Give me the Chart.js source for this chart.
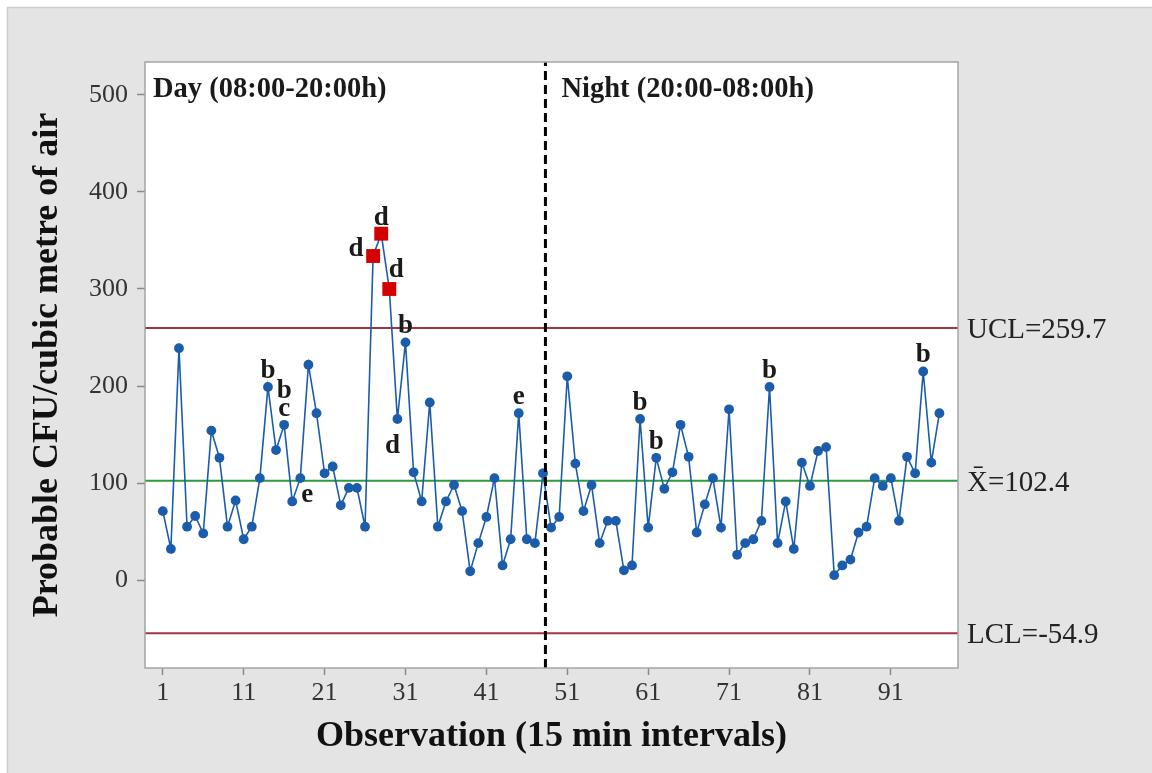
<!DOCTYPE html>
<html>
<head>
<meta charset="utf-8">
<script src="https://cdn.jsdelivr.net/npm/chart.js@4.4.1/dist/chart.umd.min.js"></script>
<style>
  html, body { margin: 0; padding: 0; background: #fff; }
  #wrap { width: 1152px; height: 773px; }
</style>
</head>
<body>
<div id="wrap"><canvas id="ctrlChart" width="1152" height="773"></canvas></div>
<script>
// Individuals chart of airborne CFU, 15 min observations (day then night)
const cfu = [
  71, 32, 239, 55, 66, 48, 154, 126, 55, 82,
  42, 55, 105, 199, 134, 160, 81, 105, 222, 172,
  110, 117, 77, 95, 95, 55, 334, 357, 300, 166,
  245, 111, 81, 183, 55, 81, 98, 71, 9, 38,
  65, 105, 15, 42, 172, 42, 38, 110, 54, 65,
  210, 120, 71, 98, 38, 61, 61, 10, 15, 166,
  54, 126, 94, 111, 160, 127, 49, 78, 105, 54,
  176, 26, 38, 42, 61, 199, 38, 81, 32, 121,
  97, 133, 137, 5, 15, 21, 49, 55, 105, 97,
  105, 61, 127, 110, 215, 121, 172
];
const redObs = [27, 28, 29];          // points beyond UCL (red squares)
const ucl = 259.7;
const mean = 102.4;
const lcl = -54.9;
const dayNightSplit = 48.3;           // dashed divider
const xTicks = [1, 11, 21, 31, 41, 51, 61, 71, 81, 91];
const yTicks = [0, 100, 200, 300, 400, 500];
const limitLabels = ["UCL=259.7", "X\u0304=102.4", "LCL=-54.9"];
const limitValues = [ucl, mean, lcl];
const periodLabels = ["Day (08:00-20:00h)", "Night (20:00-08:00h)"];

// test-rule letters next to points
const annObs   = [14, 16, 16, 18, 27, 28, 29, 30, 31, 45, 60, 62, 76, 95];
const annText  = ["b", "b", "c", "e", "d", "d", "d", "d", "b", "e", "b", "b", "b", "b"];
const annPlace = ["up", "up2", "up", "downRight", "left", "up", "upRight", "downLeft", "up", "up", "up", "up", "up", "up"];

const X_MIN = -1.2, X_MAX = 99.3;
const Y_MIN = -90.7, Y_MAX = 534;

const SERIF = "'Liberation Serif', 'Times New Roman', serif";
const BLUE = "#1b5cab";
const RED = "#d40000";

const seriesData = cfu.map((v, i) => ({ x: i + 1, y: v }));
const isRed = i => redObs.includes(i + 1);

const placeOffsets = {
  up: [0, -9], up2: [0, -27], left: [-17, 0], upRight: [7, -12],
  downLeft: [-5, 34], downRight: [7, 24]
};

const chartDeco = {
  id: "chartDeco",
  beforeDraw(chart) {
    const { ctx, chartArea: a } = chart;
    ctx.save();
    ctx.fillStyle = "#ffffff";
    ctx.fillRect(0, 0, chart.width, chart.height);
    ctx.fillStyle = "#e4e4e4";
    ctx.fillRect(7, 7, chart.width - 7, chart.height - 7);
    ctx.strokeStyle = "#cdcdcd";
    ctx.lineWidth = 1.5;
    ctx.strokeRect(7.5, 7.5, chart.width, chart.height);
    ctx.fillStyle = "#ffffff";
    ctx.fillRect(a.left, a.top, a.right - a.left, a.bottom - a.top);
    ctx.restore();
  },
  afterDraw(chart) {
    const { ctx, chartArea: a, scales: { x, y } } = chart;
    ctx.save();
    ctx.strokeStyle = "#a4a4a4";
    ctx.lineWidth = 1.5;
    ctx.strokeRect(a.left, a.top, a.right - a.left, a.bottom - a.top);

    ctx.fillStyle = "#1a1a1a";
    ctx.font = "bold 28.5px " + SERIF;
    ctx.textBaseline = "alphabetic";
    ctx.textAlign = "left";
    ctx.fillText(periodLabels[0], a.left + 8, a.top + 35);
    ctx.fillText(periodLabels[1], x.getPixelForValue(dayNightSplit) + 16, a.top + 35);

    ctx.font = "bold 27px " + SERIF;
    ctx.textAlign = "center";
    annObs.forEach((o, k) => {
      const off = placeOffsets[annPlace[k]];
      const px = x.getPixelForValue(o) + off[0];
      const py = y.getPixelForValue(cfu[o - 1]) + off[1];
      ctx.fillText(annText[k], px, py);
    });

    ctx.font = "29px " + SERIF;
    ctx.fillStyle = "#222";
    ctx.textAlign = "left";
    limitLabels.forEach((t, k) => {
      ctx.fillText(t, a.right + 9, y.getPixelForValue(limitValues[k]) + 10);
    });
    ctx.restore();
  }
};

const hLine = (val, color) => ({
  data: [{ x: X_MIN, y: val }, { x: X_MAX, y: val }],
  borderColor: color,
  borderWidth: 2,
  pointRadius: 0,
  order: 2
});

new Chart(document.getElementById("ctrlChart").getContext("2d"), {
  type: "line",
  data: {
    datasets: [
      {
        data: seriesData,
        borderColor: BLUE,
        borderWidth: 1.6,
        pointRadius: cfu.map((v, i) => isRed(i) ? 9.8 : 4.9),
        pointStyle: cfu.map((v, i) => isRed(i) ? "rect" : "circle"),
        pointBackgroundColor: cfu.map((v, i) => isRed(i) ? RED : BLUE),
        pointBorderColor: cfu.map((v, i) => isRed(i) ? RED : BLUE),
        pointBorderWidth: 0,
        tension: 0,
        order: 1
      },
      hLine(ucl, "#a3333d"),
      hLine(mean, "#2e9b3a"),
      hLine(lcl, "#a3333d"),
      {
        data: [{ x: dayNightSplit, y: Y_MIN }, { x: dayNightSplit, y: Y_MAX }],
        borderColor: "#000",
        borderWidth: 3,
        borderDash: [9, 5],
        pointRadius: 0,
        order: 0
      }
    ]
  },
  options: {
    responsive: false,
    animation: false,
    layout: { padding: { left: 0, right: 194, top: 62, bottom: 0 } },
    plugins: { legend: { display: false }, tooltip: { enabled: false } },
    scales: {
      x: {
        type: "linear",
        min: X_MIN,
        max: X_MAX,
        afterBuildTicks: s => { s.ticks = xTicks.map(v => ({ value: v })); },
        afterFit: s => { s.height = 105; },
        grid: { drawOnChartArea: false, tickLength: 7, color: "#8a8a8a", tickWidth: 1.5 },
        border: { display: false },
        ticks: { font: { family: SERIF, size: 26 }, color: "#333", padding: 3, maxRotation: 0 },
        title: {
          display: true,
          text: "Observation (15 min intervals)",
          font: { family: SERIF, size: 36, weight: "bold", lineHeight: 1 },
          color: "#111",
          padding: { top: 0, bottom: 18 }
        }
      },
      y: {
        min: Y_MIN,
        max: Y_MAX,
        afterBuildTicks: s => { s.ticks = yTicks.map(v => ({ value: v })); },
        afterFit: s => { s.width = 145; },
        grid: { drawOnChartArea: false, tickLength: 8, color: "#8a8a8a", tickWidth: 1.5 },
        border: { display: false },
        ticks: { font: { family: SERIF, size: 26 }, color: "#333", padding: 9 },
        title: {
          display: true,
          text: "Probable CFU/cubic metre of air",
          font: { family: SERIF, size: 36, weight: "bold", lineHeight: 1 },
          color: "#111",
          padding: { top: 30, bottom: 0 }
        }
      }
    }
  },
  plugins: [chartDeco]
});
</script>
</body>
</html>
